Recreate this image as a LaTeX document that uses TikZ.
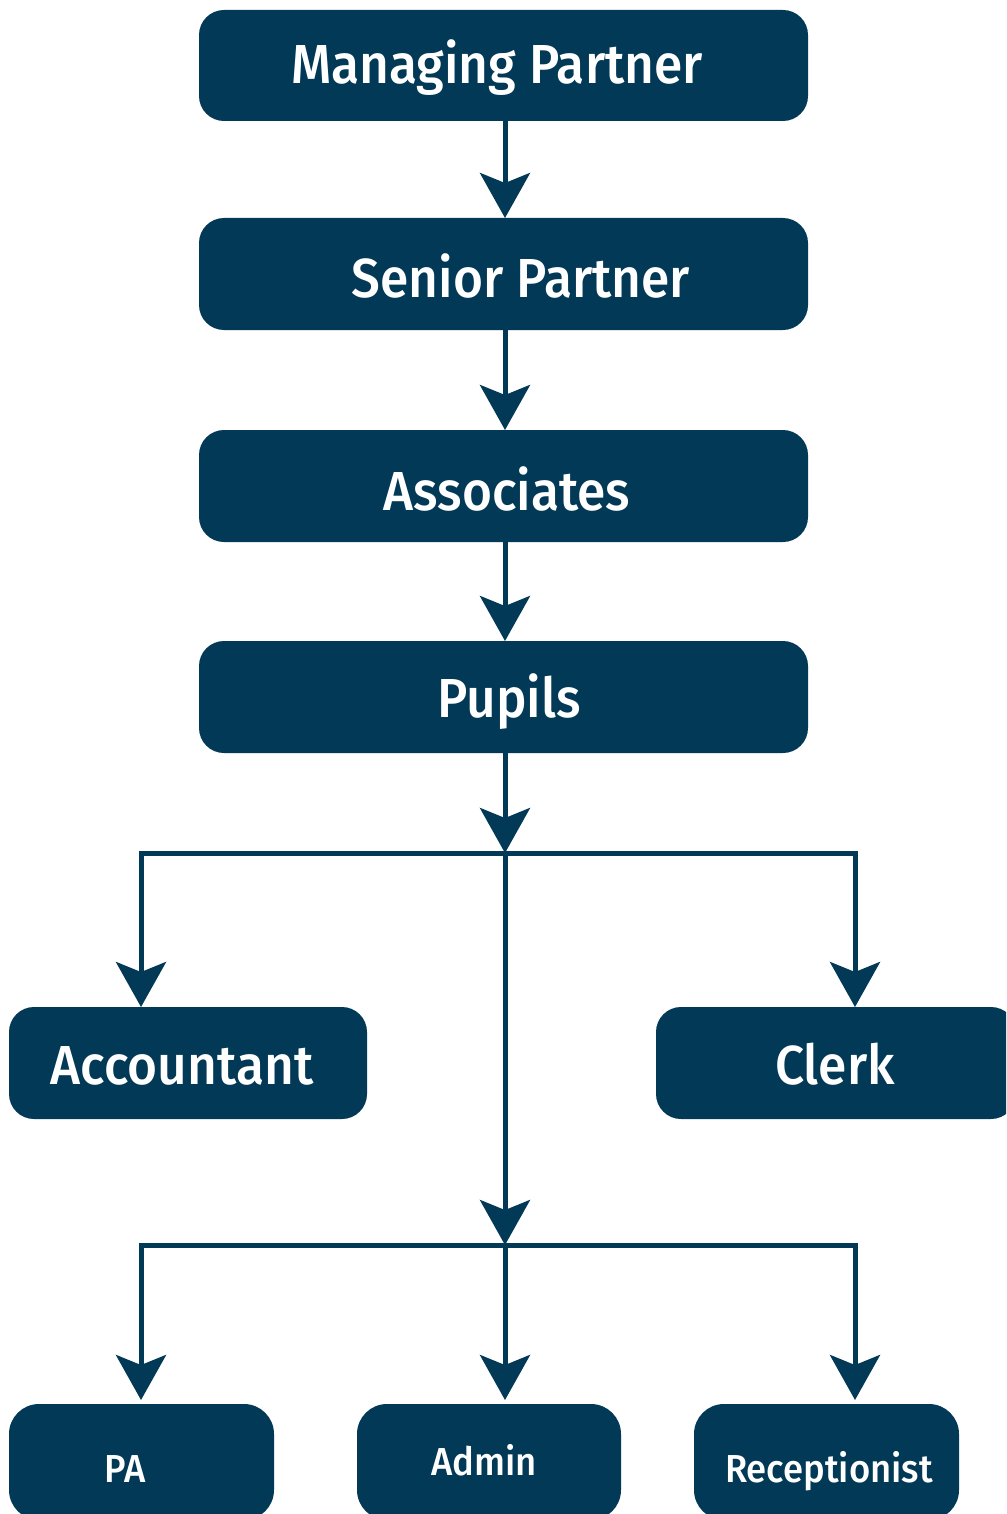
\documentclass[tikz,border=0pt]{standalone}
\usepackage{fontspec}
\setmainfont{Fira Sans Medium}[FakeStretch=0.935]
\usetikzlibrary{arrows.meta}
\definecolor{navy}{RGB}{2,57,86}
\tikzset{
  box/.style={fill=navy, draw=none, rounded corners=25pt, inner sep=0pt},
  lbl/.style={text=white, anchor=base, inner sep=0pt, font=\fontsize{55}{60}\selectfont},
  slbl/.style={text=white, anchor=base, inner sep=0pt, font=\fontsize{39}{44}\selectfont},
  conn/.style={draw=navy, line width=5pt},
  arr/.style={conn, -{Stealth[length=45pt, width=50pt, inset=10pt]}}
}
\begin{document}
\begin{tikzpicture}[x=1pt,y=-1pt]
\useasboundingbox (0,0) rectangle (1006,1514);
\clip (0,0) rectangle (1006,1514);
% boxes
\path[box] (199,10) rectangle (808,121) node[midway] (mp) {};
\path[box] (199,218) rectangle (808,330) node[midway] (sp) {};
\path[box] (199,430) rectangle (808,542) node[midway] (as) {};
\path[box] (199,641) rectangle (808,753) node[midway] (pu) {};
\path[box] (9,1007) rectangle (367,1119) node[midway] (ac) {};
\path[box] (656,1007) rectangle (1016,1119) node[midway] (cl) {};
\path[box, rounded corners=30pt] (9,1404) rectangle (274,1520) node[midway] (pa) {};
\path[box, rounded corners=30pt] (357,1404) rectangle (621,1520) node[midway] (ad) {};
\path[box, rounded corners=30pt] (694,1404) rectangle (959,1520) node[midway] (re) {};
% named box edges
\coordinate (mpB) at (505,121);
\coordinate (spT) at (505,218);
\coordinate (spB) at (505,330);
\coordinate (asT) at (505,430);
\coordinate (asB) at (505,542);
\coordinate (puT) at (505,641);
\coordinate (puB) at (505,753);
\coordinate (bus1) at (505,853);
\coordinate (acT) at (141,1007);
\coordinate (clT) at (855,1007);
\coordinate (bus2) at (505,1245);
\coordinate (paT) at (141,1400);
\coordinate (adT) at (505,1400);
\coordinate (reT) at (855,1400);
% labels
\node[lbl] (mpt) at (497,84) {Managing Partner};
\node[lbl] (spt) at (521,297) {Senior Partner};
\node[lbl] (ast) at (507,510) {Associates};
\node[lbl] (put) at (509,717) {Pupils};
\node[lbl] (act) at (182,1084) {Accountant};
\node[lbl] (clt) at (835,1084) {Clerk};
\node[slbl] (pat) at (125,1482) {PA};
\node[slbl] (adt) at (484,1475) {Admin};
\node[slbl] (ret) at (829,1482) {Receptionist};
% connectors
\draw[arr] (mpB) -- (spT);
\draw[arr] (spB) -- (asT);
\draw[arr] (asB) -- (puT);
\draw[arr] (puB) -- (bus1);
\draw[arr] (bus1) -| (acT);
\draw[arr] (bus1) -| (clT);
\draw[arr] (bus1) -- (bus2);
\draw[arr] (bus2) -| (paT);
\draw[arr] (bus2) -- (adT);
\draw[arr] (bus2) -| (reT);
\end{tikzpicture}
\end{document}
